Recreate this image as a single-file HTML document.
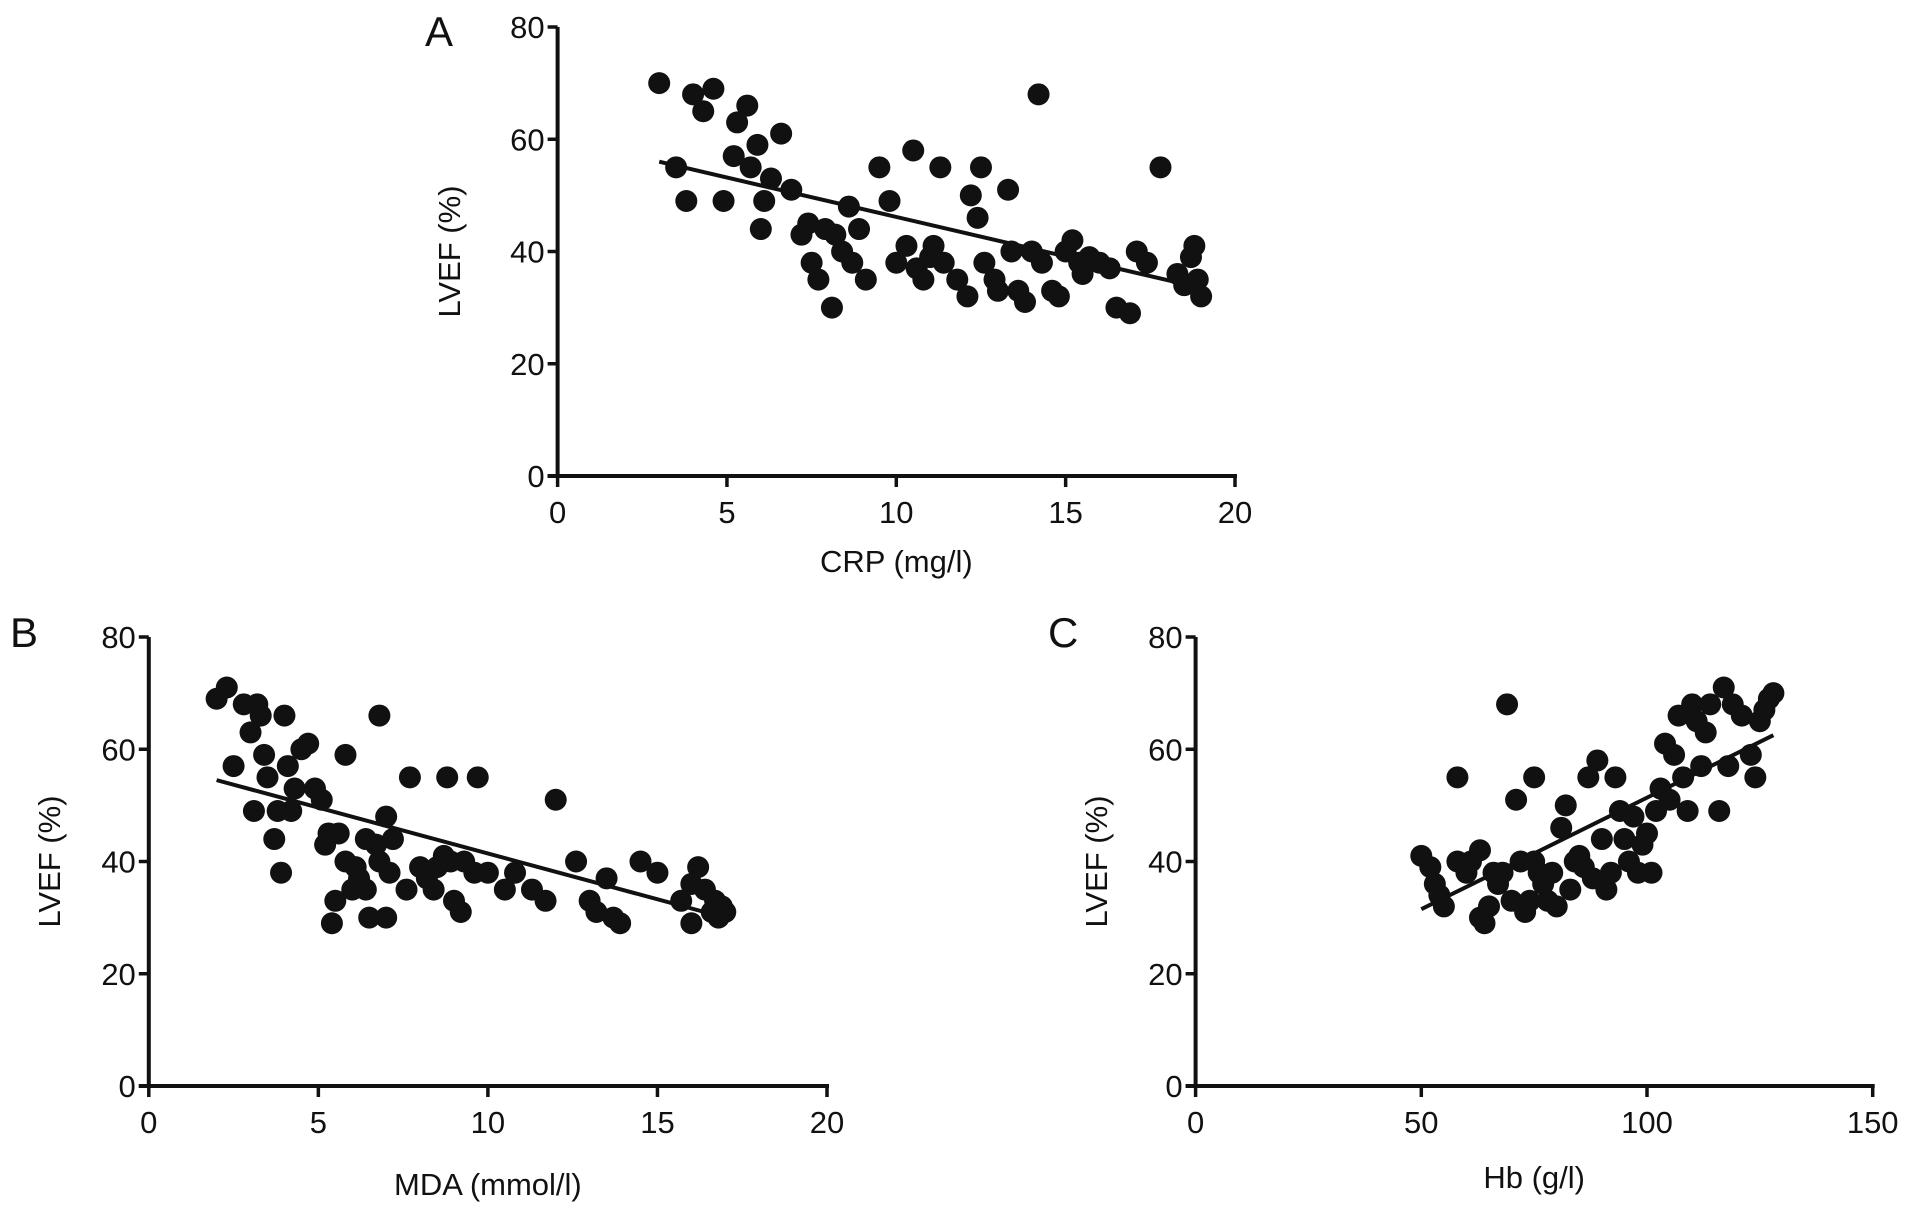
<!DOCTYPE html>
<html><head><meta charset="utf-8"><style>
html,body{margin:0;padding:0;background:#fff;}
svg{display:block;font-family:"Liberation Sans",Arial,sans-serif;}
</style></head><body>
<svg id="fig" width="1913" height="1216" viewBox="0 0 1913 1216"></svg>
<script>
const yTicks = [0,20,40,60,80];
const aTicks = [0,5,10,15,20];
const bTicks = [0,5,10,15,20];
const cTicks = [0,50,100,150];
const aX = [3,3.5,3.8,4,4.3,4.6,4.9,5.2,5.3,5.6,5.7,5.9,6,6.1,6.3,6.6,6.9,7.2,7.4,7.5,7.7,7.9,8.1,8.2,8.4,8.6,8.7,8.9,9.1,9.5,9.8,10,10.3,10.5,10.6,10.8,11,11.1,11.3,11.4,11.8,12.1,12.2,12.4,12.5,12.6,12.9,13,13.3,13.4,13.6,13.8,14,14.2,14.3,14.6,14.8,15,15.2,15.4,15.5,15.7,16,16.3,16.5,16.9,17.1,17.4,17.8,18.3,18.5,18.7,18.8,18.9,19];
const aY = [70,55,49,68,65,69,49,57,63,66,55,59,44,49,53,61,51,43,45,38,35,44,30,43,40,48,38,44,35,55,49,38,41,58,37,35,39,41,55,38,35,32,50,46,55,38,35,33,51,40,33,31,40,68,38,33,32,40,42,38,36,39,38,37,30,29,40,38,55,36,34,39,41,35,32];
const aFit = [[3,56],[19,33.5]];
const bX = [2,2.3,2.5,2.8,3,3.1,3.2,3.3,3.4,3.5,3.7,3.8,3.9,4,4.1,4.2,4.3,4.5,4.7,4.9,5.1,5.2,5.3,5.4,5.5,5.6,5.8,5.8,6,6.1,6.2,6.4,6.4,6.5,6.7,6.8,6.8,7,7,7.1,7.2,7.6,7.7,8,8.2,8.4,8.5,8.7,8.8,8.9,9,9.2,9.3,9.6,9.7,10,10.5,10.8,11.3,11.7,12,12.6,13,13.2,13.5,13.7,13.9,14.5,15,15.7,16,16,16.2,16.4,16.6,16.7,16.8,16.9,17];
const bY = [69,71,57,68,63,49,68,66,59,55,44,49,38,66,57,49,53,60,61,53,51,43,45,29,33,45,40,59,35,39,37,35,44,30,43,66,40,30,48,38,44,35,55,39,37,35,39,41,55,40,33,31,40,38,55,38,35,38,35,33,51,40,33,31,37,30,29,40,38,33,36,29,39,35,31,33,30,32,31];
const bFit = [[2,54.5],[17,30]];
const cX = [50,52,53,54,55,58,58,60,61,63,63,64,65,66,67,68,69,70,71,72,73,74,75,75,76,77,78,79,80,81,82,83,84,85,86,87,88,89,90,91,92,93,94,95,96,97,98,99,100,101,102,103,104,105,106,107,108,109,110,111,112,113,114,116,117,118,119,121,123,124,125,126,127,128];
const cY = [41,39,36,34,32,40,55,38,40,42,30,29,32,38,36,38,68,33,51,40,31,33,40,55,38,36,33,38,32,46,50,35,40,41,39,55,37,58,44,35,38,55,49,44,40,48,38,43,45,38,49,53,61,51,59,66,55,49,68,65,57,63,68,49,71,57,68,66,59,55,65,67,69,70];
const cFit = [[50,31.5],[128,62.5]];

const NS="http://www.w3.org/2000/svg";
const svg=document.getElementById('fig');
function mk(tag,attrs,parent){const e=document.createElementNS(NS,tag);for(const k in attrs)e.setAttribute(k,attrs[k]);(parent||svg).appendChild(e);return e;}

function panel(key,letter,letterX,letterY,x0,x1,xmax,y0,y1,xt,xs,ys,fit,xTitle,yTitleX,xTitleY){
  const g=mk('g',{});
  
  
  const sx=v=>x0+(x1-x0)*v/xmax;
  const sy=v=>y0+(y1-y0)*v/80;
  const lt=mk('text',{x:letterX,y:letterY,'font-size':42,fill:'#111'},g);lt.textContent=letter;
  
  
  const ya=mk('line',{x1:x0,y1:y0+2,x2:x0,y2:y1,stroke:'#111','stroke-width':4},g);
  
  
  const xa=mk('line',{x1:x0-10,y1:y0,x2:x1+2,y2:y0,stroke:'#111','stroke-width':4},g);
  
  
  yTicks.forEach(t=>{
    mk('line',{x1:x0-10,y1:sy(t),x2:x0,y2:sy(t),stroke:'#111','stroke-width':3.5},g);
    const tx=mk('text',{x:x0-13,y:sy(t)+11,'font-size':31,'text-anchor':'end',fill:'#111'},g);tx.textContent=t;
    
    
  });
  xt.forEach(t=>{
    mk('line',{x1:sx(t),y1:y0,x2:sx(t),y2:y0+11,stroke:'#111','stroke-width':3.5},g);
    const tx=mk('text',{x:sx(t),y:y0+47,'font-size':31,'text-anchor':'middle',fill:'#111'},g);tx.textContent=t;
    
    
  });
  const xtt=mk('text',{x:(x0+x1)/2,y:xTitleY,'font-size':31,'text-anchor':'middle',fill:'#111'},g);xtt.textContent=xTitle;
  
  
  const cy=(y0+y1)/2;
  const ytt=mk('text',{x:yTitleX,y:cy,'font-size':31,'text-anchor':'middle',fill:'#111',transform:`rotate(-90 ${yTitleX} ${cy})`},g);ytt.textContent='LVEF (%)';
  
  
  xs.forEach((v,i)=>{
    const c=mk('circle',{cx:sx(v),cy:sy(ys[i]),r:11,fill:'#111'},g);
    
    
  });
  const fl=mk('line',{x1:sx(fit[0][0]),y1:sy(fit[0][1]),x2:sx(fit[1][0]),y2:sy(fit[1][1]),stroke:'#111','stroke-width':4},g);
  
  
}
panel('a','A',425,46,557.6,1235,20,476,27,aTicks,aX,aY,aFit,'CRP (mg/l)',460,572);
panel('b','B',10,647,148.8,827,20,1086,637,bTicks,bX,bY,bFit,'MDA (mmol/l)',60,1195);
panel('c','C',1048,647,1195.6,1872.7,150,1086,637,cTicks,cX,cY,cFit,'Hb (g/l)',1107,1188);
</script>
</body></html>
